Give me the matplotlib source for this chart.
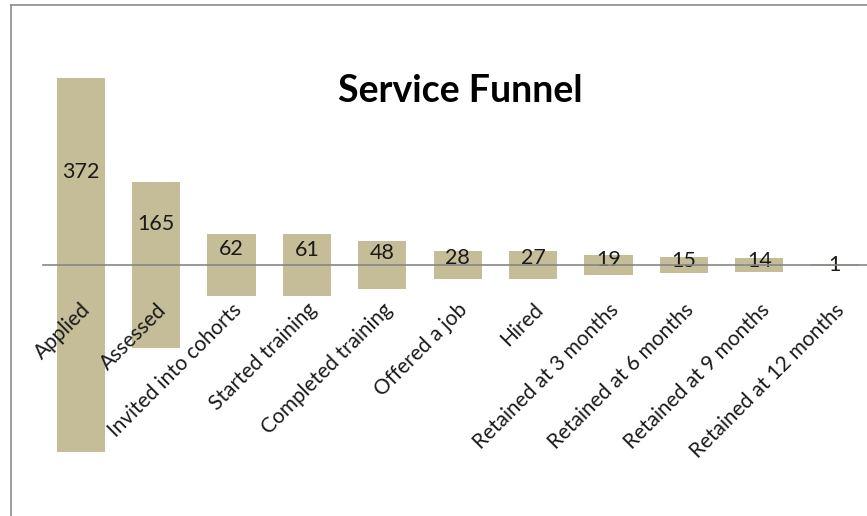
import matplotlib
matplotlib.use('Agg')
import matplotlib.pyplot as plt
from matplotlib.lines import Line2D

plt.rcParams['font.family'] = ['Lato', 'DejaVu Sans']

# funnel stages and counts
stages = ['Applied', 'Assessed', 'Invited into cohorts', 'Started training',
          'Completed training', 'Offered a job', 'Hired', 'Retained at 3 months',
          'Retained at 6 months', 'Retained at 9 months', 'Retained at 12 months']
counts = [372, 165, 62, 61, 48, 28, 27, 19, 15, 14, 1]

W, H = 867, 516
fig = plt.figure(figsize=(W / 100, H / 100), dpi=100)

# chart-area border (cut off at right and bottom like the screenshot)
fig.add_artist(Line2D([11 / W, 11 / W], [0, 1 - 5 / H], transform=fig.transFigure,
                      color='#8c8c8c', lw=1.2))
fig.add_artist(Line2D([11 / W, 1], [1 - 5 / H, 1 - 5 / H], transform=fig.transFigure,
                      color='#8c8c8c', lw=1.2))

# plot area runs past the right edge of the picture
step = 75.4
ax = fig.add_axes([43 / W, 0, 11 * step / W, 1])
ax.patch.set_alpha(0)

x = list(range(len(stages)))
bottoms = [-c / 2 for c in counts]
ax.bar(x, counts, bottom=bottoms, width=0.64, color='#c4bd97', zorder=1)

for i, c in enumerate(counts):
    ax.text(i, c / 4, str(c), ha='center', va='center', fontsize=15.5, color='#1a1a1a')

ax.set_xlim(-0.5, len(stages) - 0.5)
px = 1.005
ax.set_ylim(-251 / px, 265 / px)

for s in ['top', 'right', 'left']:
    ax.spines[s].set_visible(False)
ax.spines['bottom'].set_position(('data', 0))
ax.spines['bottom'].set_color('#868686')
ax.spines['bottom'].set_linewidth(1.2)
ax.spines['bottom'].set_zorder(3)
ax.set_yticks([])
ax.set_xticks(x)
ax.set_xticklabels(stages, rotation=45, ha='right', va='top', rotation_mode='anchor',
                   fontsize=15, color='#1a1a1a')
ax.tick_params(axis='x', length=0, pad=25)

fig.text(460 / W, 1 - 91 / H, 'Service Funnel', ha='center', va='center',
         fontsize=27, fontweight='bold', color='black')

fig.savefig('out.png', dpi=100)
